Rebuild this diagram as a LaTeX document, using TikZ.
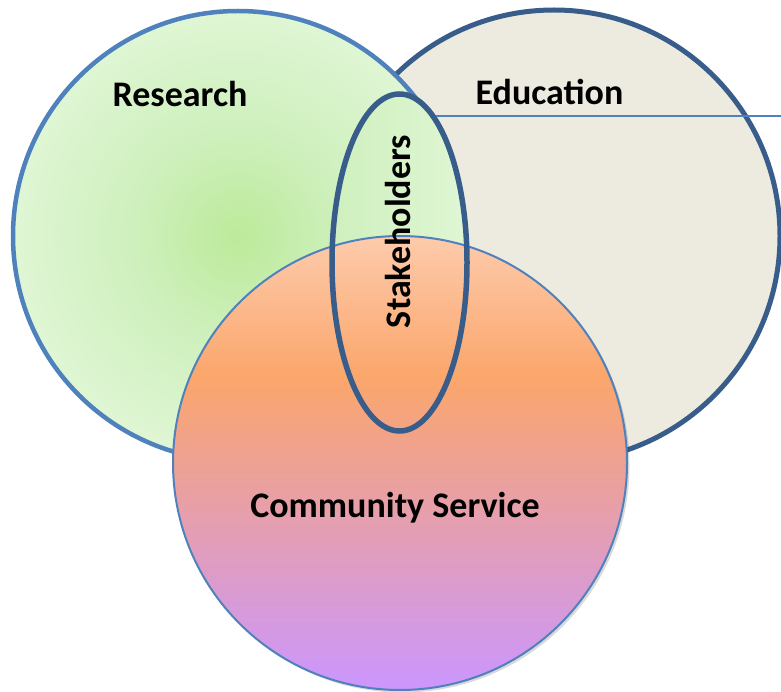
\documentclass[tikz,border=0pt]{standalone}
\usepackage{fontspec}
\setmainfont{Carlito}
\usetikzlibrary{shapes.geometric}
\definecolor{resfill}{HTML}{DFF6D4}
\definecolor{resmid}{HTML}{CFF0BE}
\definecolor{rescenter}{HTML}{BCEA9A}
\definecolor{resline}{HTML}{4F81BD}
\definecolor{edufill}{HTML}{EDEBE0}
\definecolor{eduline}{HTML}{385D8A}
\definecolor{comtop}{HTML}{FDCBAC}
\definecolor{commid}{HTML}{FBA66B}
\definecolor{combot}{HTML}{CB96FF}
\pgfdeclareradialshading{resshade}{\pgfpoint{0bp}{0bp}}{color(0bp)=(rescenter); color(12bp)=(resmid); color(25bp)=(resfill); color(50bp)=(resfill)}
\pgfdeclareverticalshading{comshade}{100bp}{color(0bp)=(combot); color(25bp)=(combot); color(59.5bp)=(commid); color(75bp)=(comtop); color(100bp)=(comtop)}
\tikzset{
  lbl/.style={font=\bfseries\fontsize{36}{40}\selectfont, inner sep=0pt, anchor=base},
  stkshape/.style={ellipse, minimum width=135pt, minimum height=337pt, inner sep=0pt},
}
\begin{document}
\begin{tikzpicture}[x=1pt,y=-1pt]
\useasboundingbox (0,0) rectangle (781,692);
% Education
\draw[fill=edufill, draw=eduline, line width=5pt] (554,236) circle (226);
% Research
\shadedraw[shading=resshade, draw=resline, line width=4.5pt] (238,236) circle (225);
% Stakeholders ellipse fill
\node[stkshape, left color=resmid, right color=resfill] (stkfill) at (399.5,262.5) {};
% Community service (with soft shadow)
\fill[black, opacity=0.15] (402.5,465.5) circle (227);
\shadedraw[shading=comshade, draw=resline, line width=2pt] (400,463) circle (227);
% Stakeholders ellipse outline
\node[stkshape, draw=eduline, line width=5.5pt] (stk) at (399.5,262.5) {};
\coordinate (lineend) at (781,118);
\draw[resline, line width=2.5pt] (stk.76.5) -- (stk.76.5 -| lineend);
% Labels
\node[lbl] (research) at (180,107) {Research};
\node[lbl] (education) at (549.5,105) {Education};
\node[lbl] (community) at (395,517) {Community Service};
\node[lbl, rotate=90] (stakeholders) at (410,231.5) {Stakeholders};
\end{tikzpicture}
\end{document}
